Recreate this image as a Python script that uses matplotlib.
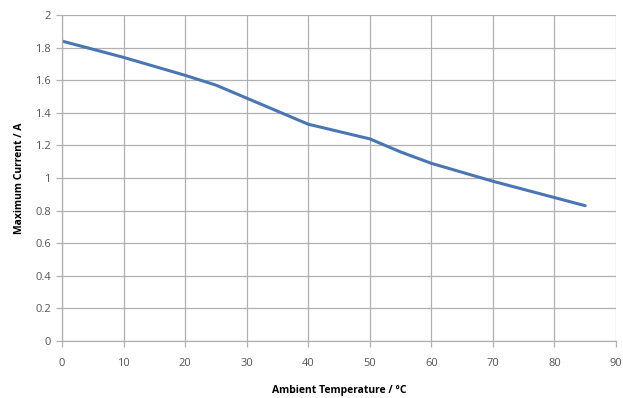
import matplotlib
matplotlib.use("Agg")
import matplotlib.pyplot as plt

temperature = [0, 10, 20, 25, 30, 35, 40, 45, 50, 55, 60, 70, 80, 85]
max_current = [1.84, 1.74, 1.63, 1.57, 1.49, 1.41, 1.33, 1.285, 1.24, 1.16, 1.09, 0.98, 0.88, 0.83]

x_ticks = list(range(0, 100, 10))
y_ticks = [0, 0.2, 0.4, 0.6, 0.8, 1, 1.2, 1.4, 1.6, 1.8, 2]
y_labels = ['0', '0.2', '0.4', '0.6', '0.8', '1', '1.2', '1.4', '1.6', '1.8', '2']

plt.rcParams['font.family'] = ['Open Sans', 'DejaVu Sans']

fig = plt.figure(figsize=(6.23, 3.98), dpi=100)
ax = fig.add_axes([62/623, 1 - 341/398, 554/623, 326/398])

ax.plot(temperature, max_current, color='#4a76b4', linewidth=2.2, solid_capstyle='round')

ax.set_xlim(0, 90)
ax.set_ylim(0, 2)
ax.set_xticks(x_ticks)
ax.set_yticks(y_ticks)
ax.set_yticklabels(y_labels)
ax.grid(True, color='#b0b0b0', linewidth=0.9)
ax.set_axisbelow(True)

for side in ['top', 'right']:
    ax.spines[side].set_visible(False)
for side in ['left', 'bottom']:
    ax.spines[side].set_color('#b0b0b0')
    ax.spines[side].set_linewidth(0.9)

ax.tick_params(axis='both', colors='#b0b0b0', labelcolor='#555555', labelsize=8, length=4, width=0.9)
ax.tick_params(axis='x', pad=8)
ax.tick_params(axis='y', pad=4)

ax.set_xlabel('Ambient Temperature / °C', fontsize=7.5, fontweight='bold', labelpad=12)
ax.set_ylabel('Maximum Current / A', fontsize=7.5, fontweight='bold', labelpad=7)

fig.savefig('out.png', dpi=100, facecolor='white')
